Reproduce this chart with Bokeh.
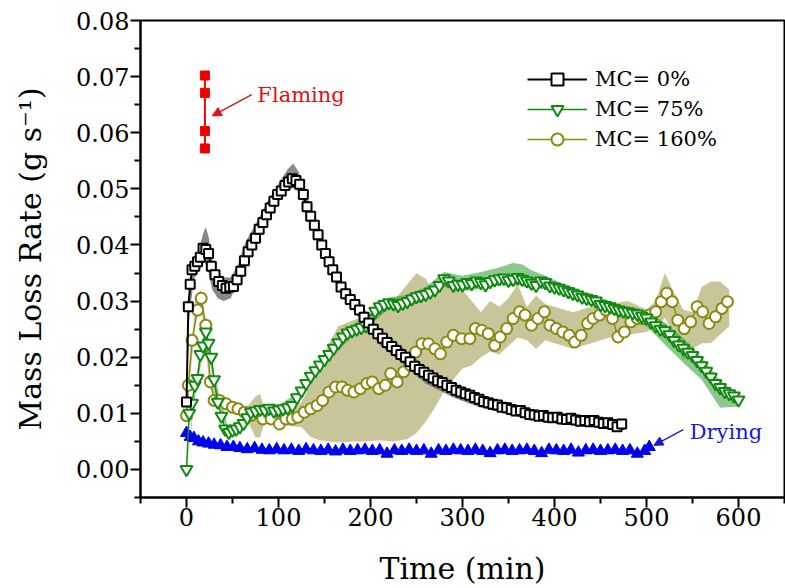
from bokeh.plotting import figure
from bokeh.models import Range1d, FixedTicker, PrintfTickFormatter, Legend, LegendItem, Arrow, NormalHead, Label
from bokeh.embed import file_html
from bokeh.resources import INLINE

FONT = "DejaVu Serif"

# ---------------- data ----------------
x_ticks = [0, 100, 200, 300, 400, 500, 600]
x_minor = [-50, 50, 150, 250, 350, 450, 550, 650]
y_ticks = [0.00, 0.01, 0.02, 0.03, 0.04, 0.05, 0.06, 0.07, 0.08]
y_minor = [-0.005, 0.005, 0.015, 0.025, 0.035, 0.045, 0.055, 0.065, 0.075]

# MC = 0 %
t0 = [0, 2, 4, 6, 9, 12, 15, 18, 21, 24, 27, 31, 35, 39, 43, 47, 51, 55, 59, 63, 67, 71, 75, 79, 83, 87, 91, 95, 99,
      103, 107, 111, 115, 119, 123, 127, 131, 135, 139, 143, 147, 151, 155, 159, 163, 168, 173, 178, 183, 188, 193,
      198, 203, 208, 213, 218, 223, 228, 233, 238, 243, 248, 253, 258, 263, 268, 273, 278, 283, 288, 293, 298, 303,
      308, 313, 318, 323, 328, 333, 338, 343, 348, 353, 358, 363, 368, 373, 378, 383, 388, 393, 398, 403, 408, 413,
      418, 423, 428, 433, 438, 443, 448, 453, 458, 463, 468, 473]
mlr0 = [0.0120, 0.0290, 0.0330, 0.0356, 0.0362, 0.0370, 0.0378, 0.0394, 0.0392, 0.0385, 0.0362, 0.0347, 0.0335,
        0.0328, 0.0323, 0.0325, 0.0326, 0.0338, 0.0353, 0.0372, 0.0388, 0.0400, 0.0412, 0.0428, 0.0440, 0.0454,
        0.0466, 0.0478, 0.0490, 0.0496, 0.0506, 0.0512, 0.0518, 0.0515, 0.0508, 0.0490, 0.0468, 0.0451, 0.0435,
        0.0418, 0.0400, 0.0385, 0.0370, 0.0356, 0.0343, 0.0325, 0.0313, 0.0303, 0.0294, 0.0284, 0.0271, 0.0261,
        0.0250, 0.0242, 0.0234, 0.0226, 0.0219, 0.0212, 0.0205, 0.0200, 0.0192, 0.0184, 0.0178, 0.0173, 0.0168,
        0.0163, 0.0158, 0.0155, 0.0150, 0.0146, 0.0141, 0.0138, 0.0135, 0.0132, 0.0128, 0.0125, 0.0121, 0.0119,
        0.0116, 0.0115, 0.0111, 0.0110, 0.0107, 0.0104, 0.0105, 0.0101, 0.0098, 0.0097, 0.0095, 0.0096, 0.0093,
        0.0092, 0.0093, 0.0090, 0.0089, 0.0091, 0.0088, 0.0086, 0.0087, 0.0085, 0.0087, 0.0084, 0.0082, 0.0083,
        0.0080, 0.0076, 0.0081]
band0_t = [0, 3, 8, 14, 18, 21, 24, 28, 34, 40, 48, 56, 64, 72, 80, 88, 96, 104, 110, 116, 122, 130, 140, 155, 170,
           190, 210, 235, 260, 290, 320, 360, 400, 440, 476]
band0_lo = [0.0100, 0.0270, 0.0340, 0.0355, 0.0370, 0.0365, 0.0350, 0.0320, 0.0305, 0.0300, 0.0305, 0.0335,
            0.0372, 0.0395, 0.0420, 0.0445, 0.0465, 0.0488, 0.0497, 0.0502, 0.0495, 0.0460, 0.0418, 0.0355, 0.0306,
            0.0266, 0.0222, 0.0188, 0.0153, 0.0128, 0.0110, 0.0094, 0.0083, 0.0076, 0.0070]
band0_hi = [0.0140, 0.0310, 0.0370, 0.0395, 0.0420, 0.0432, 0.0415, 0.0375, 0.0352, 0.0342, 0.0342, 0.0365,
            0.0405, 0.0428, 0.0452, 0.0478, 0.0498, 0.0520, 0.0535, 0.0545, 0.0530, 0.0490, 0.0448, 0.0380, 0.0333,
            0.0293, 0.0250, 0.0217, 0.0182, 0.0152, 0.0131, 0.0112, 0.0099, 0.0091, 0.0084]

# MC = 75 %
t75 = [0, 3, 6, 9, 12, 15, 18, 21, 24, 27, 30, 34, 38, 42, 46, 50, 54, 58, 62, 66, 70, 75, 80, 85, 90, 95, 100, 105,
       110, 115, 120, 125, 130, 135, 140, 145, 150, 155, 160, 165, 170, 175, 180, 185, 190, 195, 200, 205, 210, 215,
       220, 225, 230, 235, 240, 245, 250, 255, 260, 265, 270, 275, 280, 285, 290, 295, 300, 305, 310, 315, 320, 325,
       330, 335, 340, 345, 350, 355, 360, 365, 370, 375, 380, 385, 390, 395, 400, 405, 410, 415, 420, 425, 430, 435,
       440, 445, 450, 455, 460, 465, 470, 475, 480, 485, 490, 495, 500, 505, 510, 515, 520, 525, 530, 535, 540, 545,
       550, 555, 560, 565, 570, 575, 580, 585, 590, 595, 600]
mlr75 = [0.0000, 0.0100, 0.0118, 0.0150, 0.0162, 0.0205, 0.0220, 0.0245, 0.0225, 0.0200, 0.0160, 0.0120, 0.0095,
         0.0072, 0.0066, 0.0070, 0.0072, 0.0076, 0.0082, 0.0092, 0.0102, 0.0104, 0.0107, 0.0106, 0.0109, 0.0104,
         0.0106, 0.0108, 0.0110, 0.0114, 0.0128, 0.0140, 0.0153, 0.0166, 0.0176, 0.0186, 0.0196, 0.0205, 0.0216,
         0.0226, 0.0236, 0.0243, 0.0247, 0.0250, 0.0253, 0.0256, 0.0268, 0.0282, 0.0290, 0.0294, 0.0297, 0.0295,
         0.0292, 0.0296, 0.0299, 0.0304, 0.0308, 0.0310, 0.0312, 0.0316, 0.0320, 0.0328, 0.0340, 0.0336, 0.0328,
         0.0330, 0.0329, 0.0333, 0.0331, 0.0336, 0.0333, 0.0329, 0.0335, 0.0338, 0.0340, 0.0341, 0.0337, 0.0339,
         0.0342, 0.0339, 0.0336, 0.0332, 0.0328, 0.0336, 0.0333, 0.0327, 0.0325, 0.0323, 0.0320, 0.0317, 0.0314,
         0.0311, 0.0307, 0.0305, 0.0303, 0.0300, 0.0294, 0.0292, 0.0290, 0.0287, 0.0284, 0.0282, 0.0281, 0.0279,
         0.0277, 0.0273, 0.0270, 0.0263, 0.0256, 0.0250, 0.0247, 0.0240, 0.0230, 0.0222, 0.0216, 0.0209, 0.0203,
         0.0194, 0.0185, 0.0175, 0.0165, 0.0153, 0.0146, 0.0139, 0.0135, 0.0131, 0.0124]
band75_t = [0, 10, 21, 30, 45, 60, 80, 100, 120, 150, 180, 200, 220, 240, 260, 280, 300, 320, 340, 355, 365, 375,
            390, 410, 440, 470, 500, 520, 540, 560, 580, 600]
band75_lo = [0.0000, 0.0140, 0.0230, 0.0150, 0.0060, 0.0072, 0.0098, 0.0098, 0.0120, 0.0186, 0.0237, 0.0258,
             0.0287, 0.0289, 0.0302, 0.0325, 0.0318, 0.0322, 0.0328, 0.0327, 0.0328, 0.0320, 0.0322, 0.0308, 0.0292,
             0.0272, 0.0255, 0.0222, 0.0190, 0.0160, 0.0110, 0.0112]
band75_hi = [0.0000, 0.0160, 0.0260, 0.0170, 0.0074, 0.0088, 0.0116, 0.0114, 0.0136, 0.0206, 0.0257, 0.0278,
             0.0307, 0.0311, 0.0325, 0.0352, 0.0345, 0.0352, 0.0360, 0.0368, 0.0365, 0.0355, 0.0345, 0.0330, 0.0312,
             0.0294, 0.0282, 0.0262, 0.0234, 0.0200, 0.0158, 0.0134]

# MC = 160 %
t160 = [0, 2, 6, 12, 16, 21, 26, 30, 36, 43, 50, 56, 63, 70, 77, 83, 92, 101, 108, 115, 121, 128, 135, 142, 148, 155,
        162, 169, 175, 182, 189, 196, 202, 209, 216, 222, 229, 236, 243, 249, 256, 263, 270, 276, 283, 290, 299, 308,
        314, 321, 328, 335, 341, 348, 355, 362, 368, 375, 382, 389, 395, 402, 409, 416, 422, 429, 436, 442, 449, 456,
        463, 469, 476, 483, 490, 496, 503, 510, 516, 522, 528, 534, 541, 548, 555, 561, 568, 575, 582, 588]
mlr160 = [0.0096, 0.0150, 0.0230, 0.0284, 0.0305, 0.0257, 0.0156, 0.0123, 0.0123, 0.0117, 0.0111, 0.0108, 0.0102,
          0.0096, 0.0102, 0.0090, 0.0090, 0.0081, 0.0090, 0.0090, 0.0093, 0.0102, 0.0108, 0.0114, 0.0123, 0.0138,
          0.0147, 0.0147, 0.0141, 0.0138, 0.0144, 0.0153, 0.0156, 0.0144, 0.0150, 0.0171, 0.0156, 0.0174, 0.0186,
          0.0209, 0.0224, 0.0224, 0.0215, 0.0206, 0.0227, 0.0239, 0.0233, 0.0233, 0.0251, 0.0248, 0.0242, 0.0221,
          0.0236, 0.0251, 0.0269, 0.0281, 0.0275, 0.0257, 0.0269, 0.0281, 0.0257, 0.0251, 0.0245, 0.0239, 0.0227,
          0.0239, 0.0260, 0.0269, 0.0275, 0.0284, 0.0269, 0.0236, 0.0245, 0.0263, 0.0269, 0.0269, 0.0275, 0.0281,
          0.0299, 0.0314, 0.0299, 0.0266, 0.0251, 0.0263, 0.0290, 0.0281, 0.0260, 0.0272, 0.0287, 0.0299]
band160_t = [0, 10, 16, 25, 35, 50, 65, 75, 80, 85, 95, 110, 125, 135, 145, 155, 165, 180, 195, 210, 225, 240, 250,
             260, 270, 280, 290, 300, 310, 320, 330, 340, 350, 360, 370, 380, 390, 400, 420, 440, 460, 480, 500, 510,
             520, 530, 540, 550, 560, 570, 580, 590]
band160_lo = [0.0090, 0.0270, 0.0290, 0.0150, 0.0115, 0.0100, 0.0092, 0.0057, 0.0057, 0.0085, 0.0082, 0.0078,
              0.0075, 0.0058, 0.0052, 0.0050, 0.0048, 0.0050, 0.0050, 0.0052, 0.0050, 0.0054, 0.0065, 0.0085, 0.0110,
              0.0140, 0.0160, 0.0180, 0.0185, 0.0200, 0.0210, 0.0205, 0.0220, 0.0235, 0.0230, 0.0215, 0.0230, 0.0225,
              0.0215, 0.0225, 0.0235, 0.0240, 0.0245, 0.0255, 0.0270, 0.0240, 0.0195, 0.0215, 0.0225, 0.0225, 0.0240,
              0.0255]
band160_hi = [0.0110, 0.0310, 0.0320, 0.0170, 0.0130, 0.0120, 0.0110, 0.0130, 0.0135, 0.0105, 0.0098, 0.0098,
              0.0120, 0.0150, 0.0185, 0.0225, 0.0255, 0.0265, 0.0275, 0.0285, 0.0300, 0.0330, 0.0350, 0.0340, 0.0310,
              0.0330, 0.0345, 0.0320, 0.0300, 0.0280, 0.0300, 0.0290, 0.0305, 0.0330, 0.0290, 0.0310, 0.0295, 0.0290,
              0.0280, 0.0290, 0.0295, 0.0300, 0.0285, 0.0300, 0.0350, 0.0315, 0.0285, 0.0280, 0.0325, 0.0335, 0.0335,
              0.0320]

# Drying
t_dry = [0, 4, 8, 13, 18, 24, 30, 37, 44, 51, 58, 66, 74, 82, 90, 98, 106, 114, 122, 130, 138, 146, 154, 162, 170,
         178, 186, 194, 202, 210, 218, 226, 234, 242, 250, 258, 266, 274, 282, 290, 298, 306, 314, 322, 330, 338,
         346, 354, 362, 370, 378, 386, 394, 402, 410, 418, 426, 434, 442, 450, 458, 466, 474, 482, 490, 498, 503]
mlr_dry = [0.0065, 0.0058, 0.0056, 0.0050, 0.0048, 0.0046, 0.0044, 0.0043, 0.0040, 0.0040, 0.0038, 0.0036, 0.0038,
           0.0035, 0.0034, 0.0036, 0.0034, 0.0035, 0.0033, 0.0036, 0.0034, 0.0033, 0.0035, 0.0032, 0.0035, 0.0033,
           0.0034, 0.0035, 0.0033, 0.0034, 0.0028, 0.0034, 0.0033, 0.0035, 0.0033, 0.0034, 0.0028, 0.0034, 0.0033,
           0.0035, 0.0034, 0.0033, 0.0035, 0.0033, 0.0029, 0.0034, 0.0035, 0.0033, 0.0034, 0.0035, 0.0033, 0.0029,
           0.0035, 0.0034, 0.0033, 0.0035, 0.0030, 0.0034, 0.0035, 0.0033, 0.0034, 0.0035, 0.0033, 0.0034, 0.0028,
           0.0033, 0.0040]

# Flaming
t_flame = [20, 20, 20, 20]
mlr_flame = [0.0702, 0.0671, 0.0603, 0.0572]

# annotation anchors (data units)
flame_label_xy = (77, 0.0667)
flame_arrow = (71, 0.0668, 28, 0.0630)
dry_label_xy = (547, 0.0066)
dry_arrow = (540, 0.0071, 508, 0.0043)

# ---------------- figure ----------------
p = figure(width=785, height=588, output_backend="svg", toolbar_location=None,
           x_range=Range1d(-50, 650), y_range=Range1d(-0.005, 0.08),
           min_border_left=140, min_border_right=1, min_border_top=20, min_border_bottom=88)
p.xgrid.visible = False
p.ygrid.visible = False
p.outline_line_color = "black"
p.outline_line_width = 2
p.background_fill_color = "white"

BLACK = "#000000"
GREEN = "#118a11"
OLIVE = "#8a8a10"
BLUE = "#0000ee"
RED = "#ee0000"

# bands
p.varea(x=band160_t, y1=band160_lo, y2=band160_hi, fill_color="#b5b27a", fill_alpha=0.75)
p.varea(x=band75_t, y1=band75_lo, y2=band75_hi, fill_color="#2e9b2e", fill_alpha=0.55)
p.varea(x=band0_t, y1=band0_lo, y2=band0_hi, fill_color="#555555", fill_alpha=0.7)

# drying
p.line(t_dry, mlr_dry, line_color=BLUE, line_width=2)
p.scatter(t_dry, mlr_dry, marker="triangle", size=12, fill_color=BLUE, line_color=BLUE)

# series
l160 = p.line(t160, mlr160, line_color=OLIVE, line_width=1.5)
s160 = p.scatter(t160, mlr160, marker="circle", size=11, fill_color="white", line_color=OLIVE, line_width=2)
l75 = p.line(t75, mlr75, line_color=GREEN, line_width=1.5)
s75 = p.scatter(t75, mlr75, marker="inverted_triangle", size=12, fill_color="white", line_color=GREEN, line_width=2)
l0 = p.line(t0, mlr0, line_color=BLACK, line_width=2)
s0 = p.scatter(t0, mlr0, marker="square", size=9, fill_color="white", line_color=BLACK, line_width=2)

# flaming
p.line(t_flame, mlr_flame, line_color=RED, line_width=2)
p.scatter(t_flame, mlr_flame, marker="square", size=9, fill_color=RED, line_color=RED)

# annotations
p.add_layout(Label(x=flame_label_xy[0], y=flame_label_xy[1], text="Flaming", text_color="#dd1111",
                   text_font=FONT, text_font_size="21px", text_baseline="middle"))
p.add_layout(Arrow(end=NormalHead(size=9, fill_color="#dd1111", line_color="#dd1111"),
                   x_start=flame_arrow[0], y_start=flame_arrow[1], x_end=flame_arrow[2], y_end=flame_arrow[3],
                   line_color="#dd1111", line_width=1.3))
p.add_layout(Label(x=dry_label_xy[0], y=dry_label_xy[1], text="Drying", text_color="#1818d8",
                   text_font=FONT, text_font_size="21px", text_baseline="middle"))
p.add_layout(Arrow(end=NormalHead(size=9, fill_color="#1818d8", line_color="#1818d8"),
                   x_start=dry_arrow[0], y_start=dry_arrow[1], x_end=dry_arrow[2], y_end=dry_arrow[3],
                   line_color="#1818d8", line_width=1.3))

# legend
legend = Legend(items=[LegendItem(label="MC= 0%", renderers=[l0, s0]),
                       LegendItem(label="MC= 75%", renderers=[l75, s75]),
                       LegendItem(label="MC= 160%", renderers=[l160, s160])],
                location=(387, 343), orientation="vertical")
legend.label_text_font = FONT
legend.label_text_font_size = "21px"
legend.label_text_color = "black"
legend.glyph_width = 60
legend.glyph_height = 30
legend.label_height = 30
legend.label_standoff = 8
legend.spacing = 0
legend.padding = 0
legend.margin = 0
legend.border_line_alpha = 0
legend.background_fill_alpha = 0
p.add_layout(legend)

# axes
for ax in (p.xaxis[0], p.yaxis[0]):
    ax.axis_line_width = 2
    ax.major_tick_line_width = 2
    ax.minor_tick_line_width = 2
    ax.major_tick_out = 10
    ax.major_tick_in = 0
    ax.minor_tick_out = 6
    ax.minor_tick_in = 0
    ax.major_label_text_font = FONT
    ax.major_label_text_font_size = "24px"
    ax.major_label_text_color = "black"
    ax.axis_label_text_font = FONT
    ax.axis_label_text_font_size = "30px"
    ax.axis_label_text_font_style = "normal"
    ax.axis_label_text_color = "black"

p.xaxis.ticker = FixedTicker(ticks=x_ticks, minor_ticks=x_minor)
p.yaxis.ticker = FixedTicker(ticks=y_ticks, minor_ticks=y_minor)
p.yaxis.formatter = PrintfTickFormatter(format="%.2f")
p.xaxis.axis_label = "Time (min)"
p.yaxis.axis_label = "Mass Loss Rate (g s⁻¹)"
p.xaxis.major_label_standoff = 0
p.yaxis.major_label_standoff = 1
p.xaxis.axis_label_standoff = 22
p.yaxis.axis_label_standoff = 25

open("out.html", "w").write(file_html(p, INLINE))
